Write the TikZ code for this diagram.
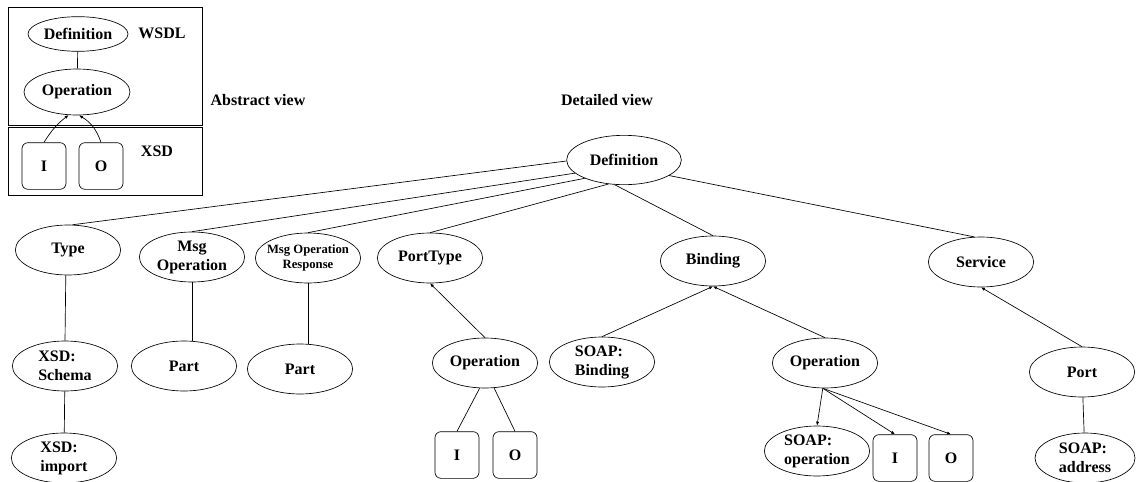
\documentclass[tikz,border=0pt]{standalone}
\usepackage{fontspec}
\setmainfont{Liberation Serif}
\usetikzlibrary{shapes.geometric,arrows.meta}

\begin{document}
\begin{tikzpicture}[x=0.75pt,y=-0.75pt,>={Latex[length=3pt,width=2.4pt]},line width=0.5pt,
  every node/.style={font=\fontsize{12}{14.2}\selectfont\bfseries},
  elem/.style={draw,ellipse,inner sep=0pt,minimum width=79pt,minimum height=37.5pt,align=center},
  leaf/.style={draw,rounded corners=4.5pt,inner sep=0pt,minimum width=33pt,minimum height=35pt}]
  \useasboundingbox (0,0) rectangle (1136,482);
  % abstract view
  \draw (8,7) rectangle (202,125);
  \draw (8,127) rectangle (202,195);
  \node[elem,minimum width=75pt,minimum height=26pt] (adef) at (78,34) {Definition};
  \node[elem,minimum width=79.5pt,minimum height=34.5pt] (aop) at (77,92) {Operation};
  \node (wsdl) at (162,33) {WSDL};
  \node (abs) at (258,100) {Abstract view};
  \node (xsd) at (157,151) {XSD};
  \node[leaf] (ai) at (44,166) {I};
  \node[leaf] (ao) at (101,166) {O};
  \draw (adef) -- (aop);
  \draw[->] (ai.north) to[bend left=10] (aop.250);
  \draw[->] (ao.north) to[bend right=20] (aop.275);
  % detailed view
  \node (det) at (607,100) {Detailed view};
  \node[elem,minimum width=86pt,minimum height=37pt] (def) at (624,160) {Definition};
  \node[elem] (type) at (68,250) {Type};
  \node[elem] (msg) at (192,257) {Msg\\Operation};
  \node[elem,inner xsep=-6pt,font=\fontsize{9.5}{11.2}\selectfont\bfseries] (resp) at (308,258) {Msg Operation\\Response};
  \node[elem] (ptype) at (430,258) {PortType};
  \node[elem] (bind) at (713,261) {Binding};
  \node[elem] (serv) at (981,262) {Service};
  \node[elem,align=left] (schema) at (65,366) {XSD:\\Schema};
  \node[elem] (part) at (184,366) {Part};
  \node[elem] (rpart) at (300,369) {Part};
  \node[elem] (pop) at (485,363) {Operation};
  \node[elem,align=left] (imp) at (64,458) {XSD:\\import};
  \node[leaf] (pi) at (457,455) {I};
  \node[leaf] (po) at (515,455) {O};
  \node[elem,align=left] (sbind) at (602,362) {SOAP:\\Binding};
  \node[elem] (bop) at (825,363) {Operation};
  \node[elem,align=left] (sop) at (817,451) {SOAP:\\operation};
  \node[leaf] (bi) at (895,458) {I};
  \node[leaf] (bo) at (951,458) {O};
  \node[elem] (port) at (1082,372) {Port};
  \node[elem,align=left,minimum width=75pt] (addr) at (1085,458) {SOAP:\\address};

  \draw (def.181) -- (type.80);
  \draw (def.195) -- (msg.north);
  \draw (def.205) -- (resp.north);
  \draw (def.237) -- (ptype.north);
  \draw (def.249) -- (bind.north);
  \draw (def.341) -- (serv.105);
  \draw (type.265) -- (schema.north);
  \draw (schema) -- (imp);
  \draw (msg.south) -- (msg.south |- part.north);
  \draw (resp.south) -- (resp.south |- rpart.north);
  \draw[->] (pop.north) -- (ptype.south);
  \draw (pop.258) -- (pi.north);
  \draw (pop.290) -- (po.north);
  \draw[->] (sbind.north) -- (bind.south);
  \draw[->] (bop.north) -- (bind.south);
  \draw[->] (bop.265) -- (sop.north);
  \draw[->] (bop.265) -- (bi.north);
  \draw[->] (bop.265) -- (bo.north);
  \draw[->] (port.north) -- (serv.south);
  \draw (port) -- (addr);
\end{tikzpicture}
\end{document}
